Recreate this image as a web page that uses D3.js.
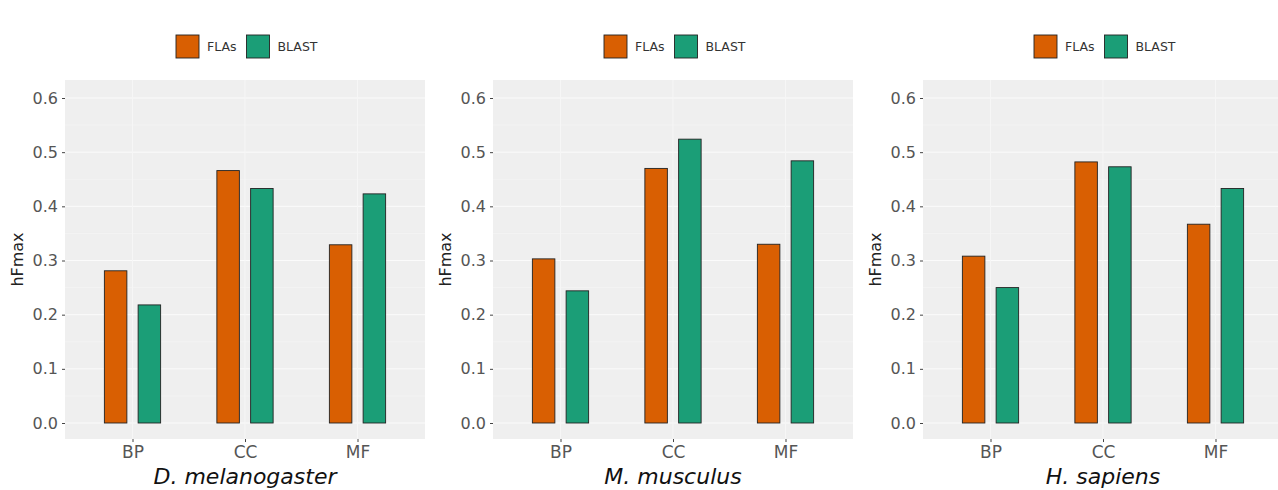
<!DOCTYPE html>
<html>
<head>
<meta charset="utf-8">
<script src="https://cdn.jsdelivr.net/npm/d3@7"></script>
<style>
  html, body { margin: 0; padding: 0; background: #ffffff; }
  svg { display: block; font-family: "DejaVu Sans", sans-serif; }
</style>
</head>
<body>
<svg id="chart" width="1278" height="490"></svg>
<script>
// GO categories and methods compared
const categories = ["BP", "CC", "MF"];
const series = ["FLAs", "BLAST"];
const species = ["D. melanogaster", "M. musculus", "H. sapiens"];

// hFmax per species (rows) and category (columns)
const flasValues = [
  [0.281, 0.466, 0.329],
  [0.303, 0.470, 0.330],
  [0.308, 0.482, 0.367]
];
const blastValues = [
  [0.218, 0.433, 0.423],
  [0.244, 0.524, 0.484],
  [0.250, 0.473, 0.433]
];

const yTicks = [0.0, 0.1, 0.2, 0.3, 0.4, 0.5, 0.6];
const yMinor = [0.05, 0.15, 0.25, 0.35, 0.45, 0.55];
const yLimits = [-0.0296, 0.6332];

const colors = { "FLAs": "#D95F02", "BLAST": "#1B9E77" };

const svg = d3.select("#chart");

const panelLefts = [65, 493, 923];
const panelWidth = 360;

// shared vertical scale
const y = d3.scaleLinear().domain([0, 0.6]).range([423, 98]);

species.forEach((name, i) => {
  const left = panelLefts[i];
  const g = svg.append("g");

  const x = d3.scalePoint().domain(categories)
    .range([left, left + panelWidth]).padding(0.6);
  const step = x.step();
  const xInner = d3.scaleBand().domain(series)
    .range([-0.3 * step, 0.3 * step]);
  const barW = 0.2 * step;

  const top = y(yLimits[1]), bottom = y(yLimits[0]);

  // panel background
  g.append("rect")
    .attr("x", left).attr("y", top)
    .attr("width", panelWidth).attr("height", bottom - top)
    .attr("fill", "#efefef");

  // grid
  g.selectAll(".minor").data(yMinor).enter().append("line")
    .attr("x1", left).attr("x2", left + panelWidth)
    .attr("y1", d => y(d)).attr("y2", d => y(d))
    .attr("stroke", "#f7f7f7").attr("stroke-width", 0.6);
  g.selectAll(".major").data(yTicks).enter().append("line")
    .attr("x1", left).attr("x2", left + panelWidth)
    .attr("y1", d => y(d)).attr("y2", d => y(d))
    .attr("stroke", "#fbfbfb").attr("stroke-width", 1);
  g.selectAll(".vmajor").data(categories).enter().append("line")
    .attr("x1", d => x(d)).attr("x2", d => x(d))
    .attr("y1", top).attr("y2", bottom)
    .attr("stroke", "#f6f6f6").attr("stroke-width", 1);

  // bars
  const rows = categories.map((c, j) => ({
    cat: c,
    vals: [
      { s: "FLAs", v: flasValues[i][j] },
      { s: "BLAST", v: blastValues[i][j] }
    ]
  }));
  rows.forEach(r => {
    g.selectAll(null).data(r.vals).enter().append("rect")
      .attr("x", d => x(r.cat) + xInner(d.s) + xInner.bandwidth() / 2 - barW / 2)
      .attr("width", barW)
      .attr("y", d => y(d.v))
      .attr("height", d => y(0) - y(d.v))
      .attr("fill", d => colors[d.s])
      .attr("stroke", "#222222")
      .attr("stroke-width", 0.9);
  });

  // y axis
  const yAxis = d3.axisLeft(y).tickValues(yTicks).tickSize(3).tickPadding(4)
    .tickFormat(d3.format(".1f"));
  const ya = g.append("g").attr("transform", `translate(${left},0)`).call(yAxis);
  ya.select(".domain").remove();
  ya.selectAll(".tick line").attr("stroke", "#444444").attr("stroke-width", 1);
  ya.selectAll(".tick text")
    .attr("fill", "#555555")
    .style("font-family", "'DejaVu Sans', sans-serif")
    .style("font-size", "16px");

  // x axis
  const xAxis = d3.axisBottom(x).tickSize(3).tickPadding(4);
  const xa = g.append("g").attr("transform", `translate(0,${bottom})`).call(xAxis);
  xa.select(".domain").remove();
  xa.selectAll(".tick line").attr("stroke", "#444444").attr("stroke-width", 1);
  xa.selectAll(".tick text")
    .attr("fill", "#555555")
    .style("font-family", "'DejaVu Sans', sans-serif")
    .style("font-size", "17px");

  // axis titles
  g.append("text")
    .attr("transform", `translate(${left - 42},${(top + bottom) / 2}) rotate(-90)`)
    .attr("text-anchor", "middle")
    .attr("fill", "#222222")
    .style("font-size", "16px")
    .text("hFmax");
  g.append("text")
    .attr("x", left + panelWidth / 2)
    .attr("y", 484)
    .attr("text-anchor", "middle")
    .attr("fill", "#111111")
    .style("font-size", "22px")
    .style("font-style", "italic")
    .text(name);

  // legend
  const lg = g.append("g").attr("transform", `translate(${left + 111},35)`);
  let cx = 0;
  series.forEach(s => {
    lg.append("rect")
      .attr("x", cx).attr("y", 0)
      .attr("width", 23).attr("height", 23)
      .attr("fill", colors[s])
      .attr("stroke", "#222222").attr("stroke-width", 0.9);
    const t = lg.append("text")
      .attr("x", cx + 31).attr("y", 16)
      .attr("fill", "#333333")
      .style("font-size", "12.5px")
      .text(s);
    cx += 31 + t.node().getComputedTextLength() + 10;
  });
});
</script>
</body>
</html>
